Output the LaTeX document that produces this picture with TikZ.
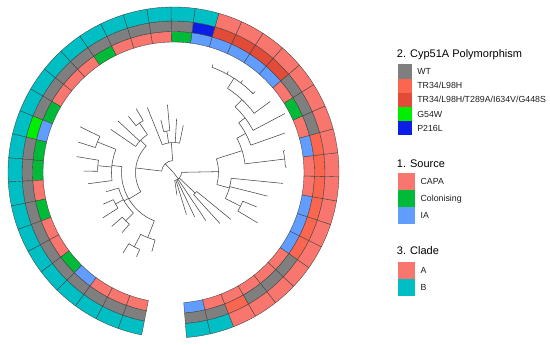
\documentclass[tikz,border=0pt]{standalone}
\usepackage{fontspec}
\setmainfont{Liberation Sans}
\definecolor{cCAPA}{HTML}{F8766D}
\definecolor{cCol}{HTML}{00BA38}
\definecolor{cIA}{HTML}{619CFF}
\definecolor{cA}{HTML}{F8766D}
\definecolor{cB}{HTML}{00BFC4}
\definecolor{cWT}{HTML}{7F7F7F}
\definecolor{cL}{HTML}{FA6650}
\definecolor{cR}{HTML}{E14B37}
\definecolor{cG}{HTML}{00EE00}
\definecolor{cP}{HTML}{0A1EE6}
\newcommand\trad[3]{\draw[treeline] (#1:#2pt) -- (#1:#3pt);}
\newcommand\tarc[3]{\draw[treeline] (#1:#3pt) arc[start angle=#1,end angle=#2,radius=#3pt];}
\begin{document}
\begin{tikzpicture}[x=1pt,y=1pt,
  seg/.style={draw=black!75,line width=0.35pt},
  treeline/.style={draw=black!72,line width=0.55pt},
  lgtitle/.style={inner sep=0pt,font=\fontsize{11}{13}\selectfont,text=black},
  item/.style={inner sep=0pt,font=\fontsize{8.8}{10}\selectfont,text=black!88},
  key/.style={inner sep=0pt,draw=none,anchor=north west}]
\useasboundingbox (0,0) rectangle (550,345);
\fill[white] (0,0) rectangle (550,345);
% ---------- rings ----------
\begin{scope}[shift={(173.5,172.5)}]
\foreach \k/\s/\p/\c in {0/cIA/cWT/cB,1/cCAPA/cWT/cB,2/cCAPA/cL/cA,3/cCAPA/cWT/cA,4/cCAPA/cWT/cA,
  5/cCAPA/cWT/cA,6/cIA/cL/cA,7/cIA/cL/cA,8/cIA/cL/cA,9/cCAPA/cL/cA,10/cCAPA/cL/cA,11/cIA/cL/cA,
  12/cCAPA/cWT/cA,13/cCol/cWT/cA,14/cCAPA/cWT/cA,15/cIA/cR/cA,16/cIA/cR/cA,17/cIA/cR/cA,18/cIA/cR/cA,
  19/cIA/cP/cB,20/cCol/cWT/cB,21/cCAPA/cWT/cB,22/cCAPA/cWT/cB,23/cCAPA/cWT/cB,24/cCol/cWT/cB,
  25/cCAPA/cWT/cB,26/cCAPA/cWT/cB,27/cCAPA/cWT/cB,28/cCol/cWT/cB,29/cIA/cG/cB,30/cCol/cWT/cB,
  31/cCol/cWT/cB,32/cCAPA/cWT/cB,33/cCol/cWT/cB,34/cCAPA/cWT/cB,35/cCAPA/cWT/cB,36/cCol/cWT/cB,
  37/cIA/cWT/cB,38/cCAPA/cWT/cB,39/cCAPA/cWT/cB,40/cCAPA/cWT/cB}{
  \pgfmathsetmacro\aa{-85.5+8.4*\k}
  \pgfmathsetmacro\ab{\aa+8.4}
  \filldraw[seg,fill=\s] (\aa:130.5pt) arc[start angle=\aa,end angle=\ab,radius=130.5pt]
     -- (\ab:141pt) arc[start angle=\ab,end angle=\aa,radius=141pt] -- cycle;
  \filldraw[seg,fill=\p] (\aa:141pt) arc[start angle=\aa,end angle=\ab,radius=141pt]
     -- (\ab:151.5pt) arc[start angle=\ab,end angle=\aa,radius=151.5pt] -- cycle;
  \filldraw[seg,fill=\c] (\aa:151.5pt) arc[start angle=\aa,end angle=\ab,radius=151.5pt]
     -- (\ab:165.5pt) arc[start angle=\ab,end angle=\aa,radius=165.5pt] -- cycle;
}
% ---------- tree ----------
\trad{-52.9}{0}{8}
\trad{133.6}{0}{12}
% right part
\tarc{-81.3}{1.1}{8}
\trad{-81.3}{8}{23}
\trad{-72.9}{8}{44}
\trad{-64.5}{8}{49}
\trad{-56.1}{8}{58}
\trad{-43.5}{8}{30}
\tarc{-47.7}{-39.3}{30}
\trad{-47.7}{30}{69}
\trad{-39.3}{30}{74}
\trad{1.1}{8}{45}
\tarc{-15.5}{17.65}{45}
\trad{-15.5}{45}{58}
\tarc{-26.7}{-5.7}{58}
\trad{-26.7}{58}{75}
\tarc{-30.9}{-22.5}{75}
\trad{-30.9}{75}{98}
\trad{-22.5}{75}{90}
\trad{-14.1}{58}{97}
\trad{-5.7}{58}{110}
\trad{17.65}{45}{72}
\tarc{6.9}{28.4}{72}
\trad{6.9}{72}{112}
\tarc{2.7}{11.1}{112}
\trad{2.7}{112}{113.5}
\trad{11.1}{112}{113.5}
\trad{28.4}{72}{82}
\tarc{19.5}{37.35}{82}
\trad{19.5}{82}{118}
\trad{37.35}{82}{90}
\tarc{27.9}{46.8}{90}
\trad{27.9}{90}{126}
\trad{46.8}{90}{100}
\tarc{36.3}{57.3}{100}
\trad{36.3}{100}{120}
\trad{57.3}{100}{112}
\tarc{44.7}{69.9}{112}
\trad{44.7}{112}{115}
\trad{53.1}{112}{115}
\trad{61.5}{112}{115}
\trad{69.9}{112}{115}
% left part
\tarc{94.05}{173.15}{12}
\trad{94.05}{12}{30}
\tarc{78.3}{111.9}{30}
\trad{78.3}{30}{48}
\trad{86.7}{30}{54}
\trad{99.3}{30}{42}
\tarc{95.1}{103.5}{42}
\trad{95.1}{42}{68}
\trad{103.5}{42}{54}
\trad{111.9}{30}{70}
\trad{173.15}{12}{38}
\tarc{135.7}{210.6}{38}
\trad{135.7}{38}{46}
\tarc{124.5}{145.5}{46}
\trad{124.5}{46}{60}
\tarc{120.3}{128.7}{60}
\trad{120.3}{60}{74}
\trad{128.7}{60}{72}
\trad{137.1}{46}{76}
\trad{145.5}{46}{76}
\trad{210.6}{38}{52}
\tarc{173.5}{248.4}{52}
\trad{173.5}{52}{62}
\tarc{158.1}{187.5}{62}
\trad{158.1}{62}{82}
\tarc{153.9}{162.3}{82}
\trad{153.9}{82}{104}
\trad{162.3}{82}{100}
\trad{174.9}{62}{76}
\tarc{170.7}{179.1}{76}
\trad{170.7}{76}{98}
\trad{179.1}{76}{90}
\trad{187.5}{62}{86}
\trad{209.9}{52}{57}
\tarc{195.9}{225.3}{57}
\trad{195.9}{57}{70}
\trad{208.5}{57}{66}
\tarc{204.3}{212.7}{66}
\trad{204.3}{66}{77}
\trad{212.7}{66}{84}
\trad{225.3}{57}{68}
\tarc{221.1}{229.5}{68}
\trad{221.1}{68}{82}
\trad{229.5}{68}{79}
\trad{248.4}{52}{70}
\tarc{242.1}{254.7}{70}
\trad{242.1}{70}{84}
\tarc{237.9}{246.3}{84}
\trad{237.9}{84}{95}
\trad{246.3}{84}{92}
\trad{254.7}{70}{82}
\end{scope}
% ---------- legend ----------
\node[lgtitle,anchor=base west] (t2) at (396.7,287.3) {2. Cyp51A Polymorphism};
\node[key,fill=cWT,minimum width=14pt,minimum height=14.14pt] (k1) at (397.3,280.7) {};
\node[key,fill=cL,minimum width=14pt,minimum height=14.14pt] (k2) at (397.3,266.56) {};
\node[key,fill=cR,minimum width=14pt,minimum height=14.14pt] (k3) at (397.3,252.42) {};
\node[key,fill=cG,minimum width=14pt,minimum height=14.14pt] (k4) at (397.3,238.28) {};
\node[key,fill=cP,minimum width=14pt,minimum height=14.14pt] (k5) at (397.3,224.14) {};
\node[item,anchor=base west] (l1) at ([xshift=5.4pt,yshift=-3.15pt]k1.east) {WT};
\node[item,anchor=base west] (l2) at ([xshift=5.4pt,yshift=-3.15pt]k2.east) {TR34/L98H};
\node[item,anchor=base west] (l3) at ([xshift=5.4pt,yshift=-3.15pt]k3.east) {TR34/L98H/T289A/I634V/G448S};
\node[item,anchor=base west] (l4) at ([xshift=5.4pt,yshift=-3.15pt]k4.east) {G54W};
\node[item,anchor=base west] (l5) at ([xshift=5.4pt,yshift=-3.15pt]k5.east) {P216L};
\node[lgtitle,anchor=base west] (t1) at (396.7,177.7) {1. Source};
\node[key,fill=cCAPA,minimum width=17pt,minimum height=17.1pt] (s1) at (397.3,172.3) {};
\node[key,fill=cCol,minimum width=17pt,minimum height=17.1pt] (s2) at (397.3,155.2) {};
\node[key,fill=cIA,minimum width=17pt,minimum height=17.1pt] (s3) at (397.3,138.1) {};
\node[item,anchor=base west] (m1) at ([xshift=5.7pt,yshift=-3.15pt]s1.east) {CAPA};
\node[item,anchor=base west] (m2) at ([xshift=5.7pt,yshift=-3.15pt]s2.east) {Colonising};
\node[item,anchor=base west] (m3) at ([xshift=5.7pt,yshift=-3.15pt]s3.east) {IA};
\node[lgtitle,anchor=base west] (t3) at (396.7,90) {3. Clade};
\node[key,fill=cA,minimum width=17pt,minimum height=17.15pt] (c1) at (397.3,83.3) {};
\node[key,fill=cB,minimum width=17pt,minimum height=17.15pt] (c2) at (397.3,66.15) {};
\node[item,anchor=base west] (n1) at ([xshift=5.7pt,yshift=-3.15pt]c1.east) {A};
\node[item,anchor=base west] (n2) at ([xshift=5.7pt,yshift=-3.15pt]c2.east) {B};
\end{tikzpicture}
\end{document}
